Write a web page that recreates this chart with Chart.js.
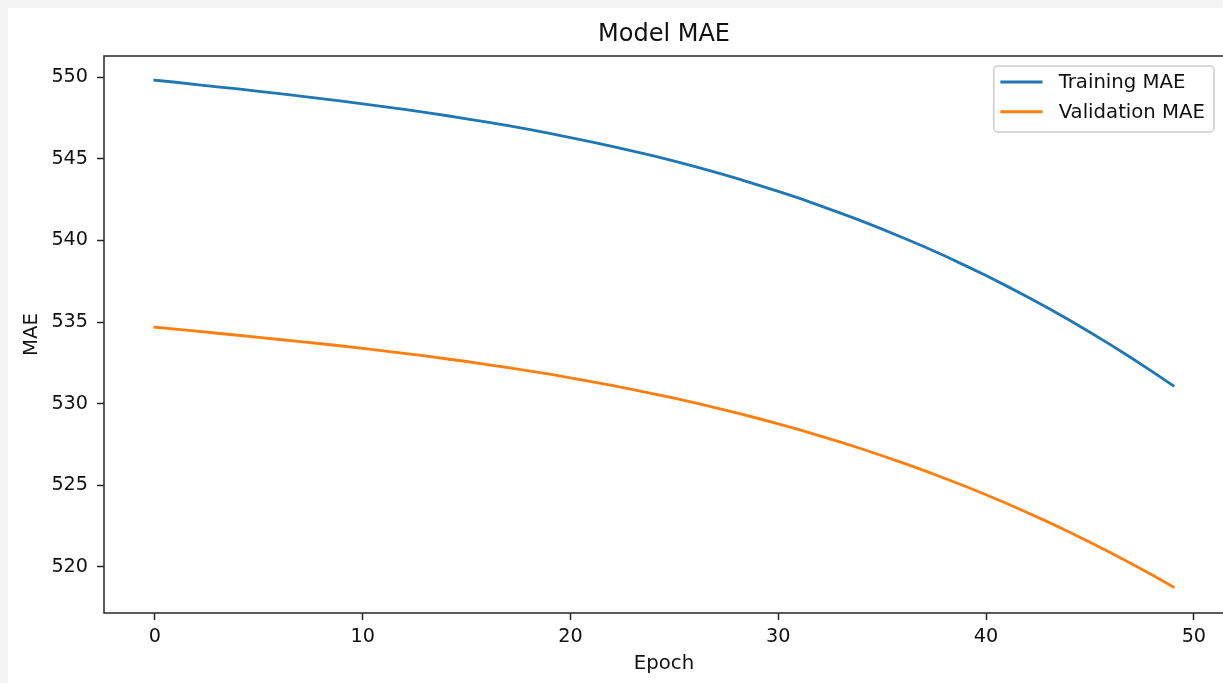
<!DOCTYPE html>
<html><head><meta charset="utf-8">
<script src="https://cdn.jsdelivr.net/npm/chart.js@4/dist/chart.umd.min.js"></script>
<style>
html,body{margin:0;padding:0;width:1223px;height:683px;overflow:hidden;background:#f4f4f4;}
#fig{position:absolute;left:8px;top:8px;right:0;bottom:0;background:#fff;}
#c{position:absolute;left:0;top:0;}
</style></head><body>
<div id="fig"></div>
<canvas id="c" width="1240" height="683"></canvas>
<script>
const epochs = [0,1,2,3,4,5,6,7,8,9,10,11,12,13,14,15,16,17,18,19,20,21,22,23,24,25,26,27,28,29,30,31,32,33,34,35,36,37,38,39,40,41,42,43,44,45,46,47,48,49];
const trainingMAE = [549.83,549.70,549.56,549.42,549.29,549.14,549.00,548.85,548.70,548.54,548.38,548.21,548.04,547.85,547.66,547.46,547.26,547.04,546.81,546.57,546.31,546.05,545.77,545.48,545.18,544.86,544.52,544.17,543.80,543.41,543.01,542.59,542.14,541.68,541.20,540.70,540.17,539.63,539.06,538.46,537.85,537.20,536.54,535.84,535.12,534.37,533.60,532.79,531.96,531.10];
const validationMAE = [534.68,534.56,534.44,534.31,534.19,534.06,533.93,533.80,533.67,533.53,533.38,533.23,533.08,532.92,532.75,532.58,532.39,532.20,532.00,531.80,531.58,531.35,531.11,530.86,530.60,530.33,530.04,529.74,529.43,529.10,528.76,528.40,528.02,527.63,527.23,526.80,526.36,525.90,525.42,524.93,524.41,523.87,523.31,522.73,522.13,521.50,520.85,520.18,519.49,518.77];
const xTicks = [0,10,20,30,40,50];
const yTicks = [520,525,530,535,540,545,550];
const seriesLabels = ['Training MAE','Validation MAE'];
const seriesColors = ['#1f77b4','#ff7f0e'];
const chartTitle = 'Model MAE';
const xTitle = 'Epoch';
const yTitle = 'MAE';

const FONT = '"DejaVu Sans", sans-serif';
const TXT = '#111111';
const SPINE = '#262626';

function rrect(ctx, x, y, w, h, r) {
  ctx.beginPath();
  ctx.moveTo(x + r, y);
  ctx.lineTo(x + w - r, y);
  ctx.arcTo(x + w, y, x + w, y + r, r);
  ctx.lineTo(x + w, y + h - r);
  ctx.arcTo(x + w, y + h, x + w - r, y + h, r);
  ctx.lineTo(x + r, y + h);
  ctx.arcTo(x, y + h, x, y + h - r, r);
  ctx.lineTo(x, y + r);
  ctx.arcTo(x, y, x + r, y, r);
  ctx.closePath();
}

const framePlugin = {
  id: 'frame',
  afterDatasetsDraw(chart) {
    const {ctx, chartArea: a} = chart;
    ctx.save();
    ctx.strokeStyle = SPINE;
    ctx.lineWidth = 1.5;
    ctx.strokeRect(a.left, a.top, a.right - a.left, a.bottom - a.top);
    ctx.restore();
  }
};

const legendPlugin = {
  id: 'mplLegend',
  afterDraw(chart) {
    const {ctx, chartArea: a} = chart;
    const ds = chart.data.datasets;
    ctx.save();
    ctx.font = '19.7px ' + FONT;
    const tw = Math.max(...ds.map(d => ctx.measureText(d.label).width));
    const padL = 6.5, handle = 42.4, gap = 16, padR = 9;
    const w = padL + handle + gap + tw + padR;
    const h = 66;
    const right = a.right - 10, top = a.top + 10, left = right - w;
    rrect(ctx, left, top, w, h, 4);
    ctx.fillStyle = 'rgba(255,255,255,0.8)';
    ctx.fill();
    ctx.strokeStyle = '#cccccc';
    ctx.lineWidth = 1.5;
    ctx.stroke();
    ds.forEach((d, i) => {
      const y = top + 16 + i * 29.7;
      ctx.strokeStyle = d.borderColor;
      ctx.lineWidth = d.borderWidth;
      ctx.lineCap = 'square';
      ctx.beginPath();
      ctx.moveTo(left + padL + 1.5, y);
      ctx.lineTo(left + padL + handle - 1.5, y);
      ctx.stroke();
      ctx.fillStyle = TXT;
      ctx.textBaseline = 'middle';
      ctx.textAlign = 'left';
      ctx.fillText(d.label, left + padL + handle + gap, y + 1);
    });
    ctx.restore();
  }
};

const tickFont = {family: FONT, size: 19.2};

new Chart(document.getElementById('c'), {
  type: 'line',
  data: {
    datasets: [
      {
        label: seriesLabels[0],
        data: epochs.map((e, i) => ({x: e, y: trainingMAE[i]})),
        borderColor: seriesColors[0],
        backgroundColor: seriesColors[0],
        borderWidth: 2.85,
        pointRadius: 0,
        tension: 0,
        fill: false,
        borderCapStyle: 'square',
        borderJoinStyle: 'round'
      },
      {
        label: seriesLabels[1],
        data: epochs.map((e, i) => ({x: e, y: validationMAE[i]})),
        borderColor: seriesColors[1],
        backgroundColor: seriesColors[1],
        borderWidth: 2.85,
        pointRadius: 0,
        tension: 0,
        fill: false,
        borderCapStyle: 'square',
        borderJoinStyle: 'round'
      }
    ]
  },
  options: {
    responsive: false,
    animation: false,
    devicePixelRatio: 1,
    layout: {padding: {left: 0, right: 16, top: 0, bottom: 0}},
    plugins: {
      legend: {display: false},
      tooltip: {enabled: false},
      title: {
        display: true,
        text: chartTitle,
        fullSize: false,
        color: TXT,
        font: {family: FONT, size: 24, weight: 'normal'},
        padding: {top: 20, bottom: 7.2}
      }
    },
    scales: {
      x: {
        type: 'linear',
        min: -2.45,
        max: 51.45,
        afterBuildTicks: s => { s.ticks = xTicks.map(v => ({value: v})); },
        afterFit: s => { s.height = 70; },
        ticks: {autoSkip: false, maxRotation: 0, minRotation: 0, padding: 5, font: tickFont, color: TXT},
        grid: {display: true, drawOnChartArea: false, drawTicks: true, tickLength: 7, tickColor: SPINE, tickWidth: 1.5, color: SPINE},
        border: {display: false},
        title: {display: true, text: xTitle, color: TXT, font: {family: FONT, size: 19.7}, padding: {top: 0, bottom: 7.2}}
      },
      y: {
        type: 'linear',
        min: 517.16,
        max: 551.31,
        afterBuildTicks: s => { s.ticks = yTicks.map(v => ({value: v})); },
        afterFit: s => { s.width = 104; },
        ticks: {autoSkip: false, padding: 9, font: tickFont, color: TXT, includeBounds: false},
        grid: {display: true, drawOnChartArea: false, drawTicks: true, tickLength: 7, tickColor: SPINE, tickWidth: 1.5, color: SPINE},
        border: {display: false},
        title: {display: true, text: yTitle, color: TXT, font: {family: FONT, size: 19.7}, padding: {top: 20, bottom: 0}}
      }
    }
  },
  plugins: [framePlugin, legendPlugin]
});
</script>
</body></html>
